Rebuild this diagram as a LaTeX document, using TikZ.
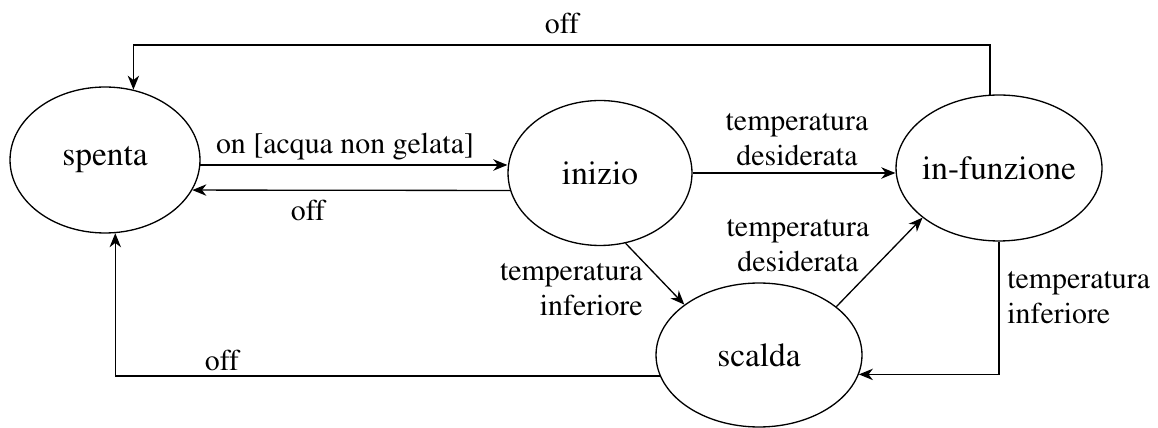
\documentclass[tikz,border=0pt]{standalone}
\usepackage[T1]{fontenc}
\renewcommand{\rmdefault}{ptm}
\usetikzlibrary{shapes.geometric,arrows.meta}

\begin{document}
\begin{tikzpicture}[x=0.02cm, y=-0.02cm,
  stato/.style={draw, ellipse, line width=0.75pt, inner sep=-4mm, font=\fontsize{19}{23}\selectfont},
  etichetta/.style={font=\fontsize{17}{20}\selectfont, inner sep=0pt, align=center},
  freccia/.style={line width=0.75pt, -{Stealth[length=8pt,width=6.5pt,inset=2.5pt]}}]
\useasboundingbox (0,0) rectangle (1158,428);
% Diagramma degli stati
\node[stato, minimum width=3.8cm, minimum height=2.92cm] (spenta) at (105,160) {spenta};
\node[stato, minimum width=3.68cm, minimum height=2.9cm] (inizio) at (600,173) {inizio};
\node[stato, minimum width=4.12cm, minimum height=2.92cm] (funz) at (999,168) {in-funzione};
\node[stato, minimum width=4.12cm, minimum height=2.88cm] (scalda) at (759,355) {scalda};
\coordinate (cima) at (0,45);
\draw[freccia] (spenta.-3) -- (spenta.-3 -| inizio.west);
\draw[freccia] (inizio.191) -- (spenta.-19);
\draw[freccia] (inizio.east) -- (inizio.east -| funz.west);
\draw[freccia] (inizio.-70) -- (scalda.146);
\draw[freccia] (scalda.32) -- (funz.213);
\draw[freccia] (funz.south) |- (scalda.-11);
\draw[freccia] (scalda.192) -| (spenta.-82);
\draw[freccia] (funz.97) |- (cima -| spenta.68) -- (spenta.68);
\node[etichetta] (lOffCima) at (562,24) {off};
\node[etichetta] (lOn) at (345,147) {on [acqua non gelata]};
\node[etichetta] (lOff) at (308,211) {off};
\node[etichetta] (lDes1) at (797,140) {temperatura\\desiderata};
\node[etichetta] (lDes2) at (798,246) {temperatura\\desiderata};
\node[etichetta, align=right, anchor=east] (lInf1) at (643,290) {temperatura\\inferiore};
\node[etichetta, align=left, anchor=west] (lInf2) at (1007,298) {temperatura\\inferiore};
\node[etichetta] (lOffBasso) at (222,361) {off};
\end{tikzpicture}
\end{document}
